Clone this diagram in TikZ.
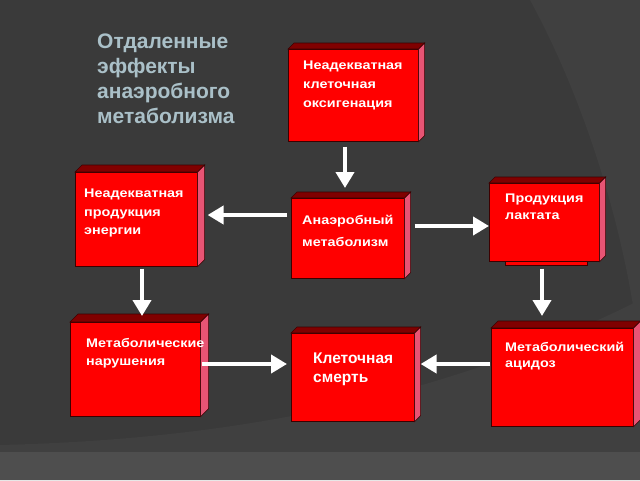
\documentclass[tikz,border=0pt]{standalone}
\usepackage{fontspec}
\setmainfont{Liberation Sans}
\newfontfamily\boxfont[FakeStretch=1.15]{Liberation Sans}
\usetikzlibrary{arrows.meta}

\definecolor{slidebg}{RGB}{58,58,58}
\definecolor{slidearc}{RGB}{64,64,64}
\definecolor{slideband}{RGB}{78,78,78}
\definecolor{boxred}{RGB}{255,0,0}
\definecolor{boxtop}{RGB}{128,0,0}
\definecolor{boxside}{RGB}{232,84,116}
\definecolor{boxline}{RGB}{60,0,0}
\definecolor{titleblue}{RGB}{170,192,200}

\tikzset{
  redbox/.style={draw=boxline, line width=0.6pt, fill=boxred, anchor=north west, inner sep=0pt},
  boxtext/.style={text=white, anchor=north west, inner sep=0pt, align=left,
    font=\boxfont\bfseries\fontsize{12.5}{#1}\selectfont},
  boxtext/.default=19,
  whitearrow/.style={draw=white, line width=4pt, -{Triangle[width=18pt,length=16pt]}},
}

\begin{document}
\begin{tikzpicture}[x=1pt, y=-1pt]
    \useasboundingbox (0,0) rectangle (640,480);

    % background
    \fill[slidebg] (0,0) rectangle (640,480);
    \fill[slidearc] (530,0) .. controls (590,110) and (630,250) .. (640,360) -- (640,0) -- cycle;
    \fill[slidearc] (0,445) .. controls (200,440) and (420,410) .. (640,300) -- (640,480) -- (0,480) -- cycle;
    \fill[slideband] (0,452) rectangle (640,480);

    % title
    \node[text=titleblue, anchor=north west, inner sep=0pt, align=left,
          font=\bfseries\fontsize{21}{25}\selectfont] (title) at (97,34)
          {Отдаленные\\эффекты\\анаэробного\\метаболизма};

    % shadow box under the lactate box
    \filldraw[fill=boxred, draw=boxline, line width=0.6pt] (505,245) rectangle (587,265);

    % boxes
    \node[redbox, minimum width=130pt, minimum height=92pt] (oxy) at (288,49) {};
    \node[redbox, minimum width=122pt, minimum height=94pt] (energy) at (75,172) {};
    \node[redbox, minimum width=113pt, minimum height=80pt] (anaer) at (291,198) {};
    \node[redbox, minimum width=110pt, minimum height=78pt] (lact) at (489,183) {};
    \node[redbox, minimum width=130pt, minimum height=94pt] (disord) at (70,322) {};
    \node[redbox, minimum width=123pt, minimum height=88pt] (death) at (291,333) {};
    \node[redbox, minimum width=142pt, minimum height=98pt] (acid) at (491,328) {};

    % top and side faces
    \foreach \b/\d in {oxy/6, energy/7, anaer/6, lact/6, disord/8, death/6, acid/7} {
        \filldraw[fill=boxtop, draw=boxline, line width=0.6pt]
            (\b.north west) -- ++(\d,-\d) -- ([shift={(\d,-\d)}]\b.north east) -- (\b.north east) -- cycle;
        \filldraw[fill=boxside, draw=boxline, line width=0.6pt]
            (\b.north east) -- ++(\d,-\d) -- ([shift={(\d,-\d)}]\b.south east) -- (\b.south east) -- cycle;
    }

    % texts
    \node[boxtext] (oxy-t) at (303,61) {Неадекватная\\клеточная\\оксигенация};
    \node[boxtext=18.5] (energy-t) at (84,189) {Неадекватная\\продукция\\энергии};
    \node[boxtext=22] (anaer-t) at (302,215) {Анаэробный\\метаболизм};
    \node[boxtext=17] (lact-t) at (505,194) {Продукция\\лактата};
    \node[boxtext=18] (disord-t) at (86,338) {Метаболические\\нарушения};
    \node[boxtext=19, font=\bfseries\fontsize{15.5}{19}\selectfont] (death-t) at (313,353) {Клеточная\\смерть};
    \node[boxtext=16] (acid-t) at (505,342) {Метаболический\\ацидоз};

    % arrows
    \coordinate (rowA) at (0,215);
    \coordinate (rowB) at (0,226);
    \coordinate (rowC) at (0,364);
    \coordinate (colA) at (142,0);
    \coordinate (colB) at (345,0);
    \coordinate (colC) at (542,0);
    \draw[whitearrow, shorten <=5pt, shorten >=10pt] (oxy.south -| colB) -- (anaer.north -| colB);
    \draw[whitearrow, shorten <=4pt, shorten >=10pt] (anaer.west |- rowA) -- (energy.east |- rowA);
    \draw[whitearrow, shorten <=10pt] (anaer.east |- rowB) -- (lact.west |- rowB);
    \draw[whitearrow, shorten <=2pt, shorten >=6pt] (energy.south -| colA) -- (disord.north -| colA);
    \draw[whitearrow, shorten <=7pt, shorten >=12pt] (lact.south -| colC) -- (acid.north -| colC);
    \draw[whitearrow, shorten <=1pt, shorten >=4pt] (disord.east |- rowC) -- (death.west |- rowC);
    \draw[whitearrow, shorten <=1pt, shorten >=6pt] (acid.west |- rowC) -- (death.east |- rowC);
\end{tikzpicture}
\end{document}
